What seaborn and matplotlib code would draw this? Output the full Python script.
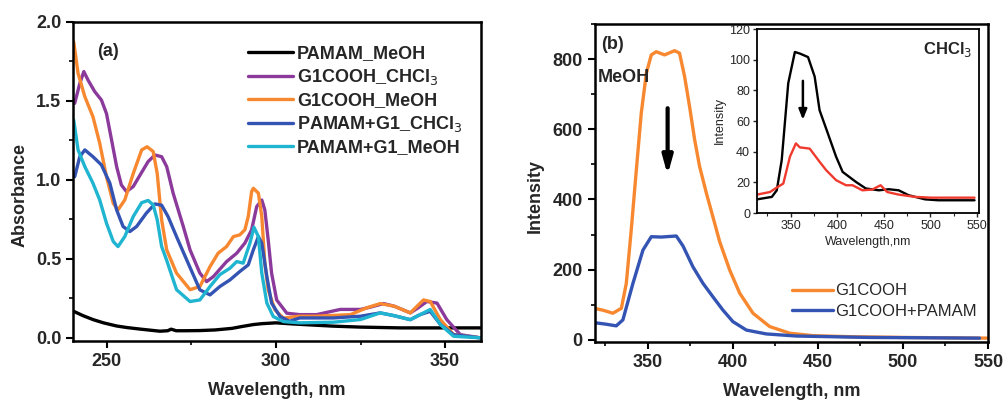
import matplotlib
matplotlib.use("Agg")
import matplotlib.pyplot as plt
import seaborn as sns
import pandas as pd
from matplotlib.ticker import MultipleLocator, FormatStrFormatter

sns.set_theme(style="ticks")
plt.rcParams['font.family'] = ['Liberation Sans', 'DejaVu Sans']

# ---------------- Panel (a) data: absorbance ----------------
pamam_meoh_x = [240.2, 243, 246, 249, 252.9, 256, 260, 265.7, 268, 269, 270.5, 273, 277.5, 282, 287, 290, 293.3, 296, 300, 305, 310, 317, 325, 336.8, 345, 352, 360.4]
pamam_meoh_y = [0.168, 0.14, 0.115, 0.095, 0.075, 0.065, 0.055, 0.042, 0.045, 0.055, 0.045, 0.045, 0.046, 0.05, 0.06, 0.072, 0.084, 0.09, 0.095, 0.088, 0.082, 0.074, 0.068, 0.063, 0.063, 0.063, 0.063]

g1_chcl3_x = [240.5, 242, 243.2, 244.5, 246.4, 248.4, 249.9, 251.4, 252.9, 254.3, 255.8, 257.8, 259.8, 262.2, 264.2, 266.2, 267.7, 269.6, 272.6, 274.6, 277.5, 279.5, 281.5, 285.4, 288.4, 290.8, 292.8, 294.3, 295.8, 296.7, 297.7, 298.7, 300.2, 303.2, 307, 312, 319, 325, 328, 331.8, 335, 339.7, 342, 344.6, 347.6, 350.5, 354.5, 360.4]
g1_chcl3_y = [1.485, 1.61, 1.686, 1.63, 1.56, 1.506, 1.42, 1.253, 1.084, 0.968, 0.926, 0.958, 1.03, 1.116, 1.158, 1.147, 1.084, 0.916, 0.705, 0.557, 0.41, 0.356, 0.388, 0.483, 0.536, 0.60, 0.684, 0.831, 0.873, 0.81, 0.62, 0.41, 0.24, 0.156, 0.147, 0.147, 0.18, 0.18, 0.195, 0.217, 0.2, 0.158, 0.19, 0.23, 0.22, 0.115, 0.02, 0.0]

g1_meoh_x = [240.2, 241.5, 243.5, 245.9, 247.9, 249.9, 251.9, 253.3, 255.3, 257.8, 260.3, 261.9, 263.7, 264.9, 266.2, 267.7, 270.6, 274.6, 277.5, 280.5, 282.9, 285.4, 287.4, 289.3, 290.8, 291.8, 292.8, 293.3, 294.8, 295.8, 296.7, 297.7, 299.7, 302.2, 307, 312, 322, 326.8, 330.8, 335, 339.7, 343.6, 345.6, 348.6, 352.5, 360.4]
g1_meoh_y = [1.875, 1.675, 1.527, 1.40, 1.232, 1.02, 0.852, 0.81, 0.873, 1.04, 1.19, 1.21, 1.18, 1.04, 0.747, 0.557, 0.41, 0.305, 0.325, 0.451, 0.536, 0.578, 0.641, 0.652, 0.684, 0.768, 0.926, 0.947, 0.916, 0.768, 0.473, 0.304, 0.177, 0.125, 0.137, 0.137, 0.147, 0.19, 0.217, 0.2, 0.158, 0.24, 0.23, 0.115, 0.02, 0.0]

mix_chcl3_x = [240.5, 242, 243.5, 245.9, 248.4, 250.9, 252.9, 254.8, 256.8, 258.8, 261.7, 264.2, 266.2, 268.1, 270.6, 273.6, 277.5, 280.5, 283.4, 286.4, 289.3, 291.8, 293.3, 294.8, 295.8, 297.3, 298.7, 301.2, 304, 307, 317, 325, 330.8, 335, 339.7, 342.6, 345.6, 348.6, 352.5, 360.4]
mix_chcl3_y = [1.02, 1.147, 1.19, 1.147, 1.095, 0.979, 0.81, 0.705, 0.673, 0.705, 0.79, 0.848, 0.84, 0.768, 0.641, 0.494, 0.304, 0.272, 0.325, 0.367, 0.42, 0.462, 0.557, 0.641, 0.60, 0.388, 0.22, 0.135, 0.105, 0.126, 0.126, 0.137, 0.158, 0.14, 0.115, 0.147, 0.168, 0.084, 0.02, 0.0]

mix_meoh_x = [240.2, 241.5, 243.5, 245.9, 247.9, 249.9, 251.9, 253.3, 255.3, 257.8, 260.3, 262.2, 263.7, 264.9, 266.2, 267.7, 270.6, 274.6, 277.5, 280.5, 283.4, 286.4, 288.4, 290.3, 292.3, 293.5, 294.8, 295.8, 297.3, 299.2, 302.2, 307, 317, 325, 330.8, 335, 339.7, 345.6, 348.6, 352.5, 360.4]
mix_meoh_y = [1.38, 1.19, 1.084, 0.979, 0.873, 0.726, 0.61, 0.578, 0.641, 0.768, 0.856, 0.87, 0.842, 0.747, 0.578, 0.49, 0.305, 0.23, 0.24, 0.325, 0.40, 0.441, 0.483, 0.473, 0.60, 0.70, 0.641, 0.41, 0.22, 0.135, 0.103, 0.095, 0.099, 0.116, 0.158, 0.14, 0.115, 0.18, 0.084, 0.01, 0.0]

# ---------------- Panel (b) data: emission in MeOH ----------------
em_g1_x = [318.6, 324, 329.4, 334.4, 337.3, 340.2, 343.2, 346.1, 349.1, 352.0, 354.9, 359.8, 365.7, 368.6, 371.6, 374.5, 377.5, 380.4, 384.4, 388.2, 392.2, 398.1, 404, 411.8, 421.6, 433.4, 447.2, 470, 500, 550]
em_g1_y = [90, 84, 76, 90, 161, 313, 484, 646, 760, 812, 821, 812, 824, 817, 750, 665, 570, 494, 418, 351, 280, 199, 133, 76, 38, 19, 12, 9, 7, 5]

em_mix_x = [318.6, 325, 331.4, 335.3, 341.2, 347.1, 352.0, 357.9, 366.7, 370.6, 376.5, 382.4, 388.2, 394.1, 400, 407.9, 419.6, 437.3, 480, 545]
em_mix_y = [49, 45, 40, 57, 161, 256, 294, 293, 296, 268, 208, 161, 123, 85, 52, 28, 17, 11, 7, 5]

# ---------------- Inset data: emission in CHCl3 ----------------
ins_black_x = [314, 329.9, 335.2, 340.5, 347.5, 354.6, 359.9, 368.7, 375.8, 381.1, 389.9, 398.8, 405.8, 420, 430.6, 444.7, 455.3, 465.9, 476.5, 494.2, 508.3, 547.2]
ins_black_y = [8.9, 10.5, 14.8, 34.5, 84.7, 105, 104, 101.7, 89, 67, 52, 36.7, 26.8, 20.3, 16, 14.8, 15.5, 14.8, 11.6, 8.9, 8.3, 8.3]

ins_red_x = [314, 328, 335.2, 342.2, 349.3, 355.7, 359.9, 370.5, 381.1, 388.2, 398.8, 409.4, 416.4, 427, 437.6, 446.5, 453.5, 465.9, 483.6, 501.2, 547.2]
ins_red_y = [12, 13.7, 16.6, 19.2, 36.7, 45.4, 42.8, 42, 33.4, 27.9, 21.4, 18.1, 18.1, 14.8, 15.3, 18.1, 13.7, 12, 10.5, 10, 10]

abs_series = [
    ("PAMAM_MeOH", pamam_meoh_x, pamam_meoh_y, "#000000"),
    ("G1COOH_CHCl$_3$", g1_chcl3_x, g1_chcl3_y, "#8b3a9c"),
    ("G1COOH_MeOH", g1_meoh_x, g1_meoh_y, "#f7882f"),
    ("PAMAM+G1_CHCl$_3$", mix_chcl3_x, mix_chcl3_y, "#3454b4"),
    ("PAMAM+G1_MeOH", mix_meoh_x, mix_meoh_y, "#1fb5d0"),
]

fig = plt.figure(figsize=(10.06, 4.01), dpi=100)
W, H = 1006, 401
axa = fig.add_axes([73 / W, 1 - 341 / H, (481 - 73) / W, (341 - 22) / H])
axb = fig.add_axes([594.5 / W, 1 - 342 / H, (988 - 594.5) / W, (342 - 24) / H])
axi = fig.add_axes([757 / W, 1 - 213 / H, (979 - 757) / W, (213 - 29) / H])

def style(ax, lw=1.8, fs=13):
    for s in ax.spines.values():
        s.set_linewidth(lw)
        s.set_color("black")
    ax.tick_params(which="major", direction="out", length=5, width=1.5, labelsize=fs, color="black")
    ax.tick_params(which="minor", direction="out", length=3, width=1.2, color="black")
    ax.tick_params(top=False, right=False)
    for lab in ax.get_xticklabels() + ax.get_yticklabels():
        lab.set_fontweight("bold")

# Panel (a)
for name, xs, ys, col in abs_series:
    df = pd.DataFrame({"x": xs, "y": ys})
    sns.lineplot(data=df, x="x", y="y", ax=axa, color=col, lw=2.4, label=name, sort=False)
axa.set_xlim(240, 360.6)
axa.set_ylim(-0.02, 2.0)
axa.xaxis.set_major_locator(MultipleLocator(50))
axa.xaxis.set_minor_locator(MultipleLocator(25))
axa.yaxis.set_major_locator(MultipleLocator(0.5))
axa.yaxis.set_minor_locator(MultipleLocator(0.25))
axa.yaxis.set_major_formatter(FormatStrFormatter("%.1f"))
axa.set_xlabel("Wavelength, nm", fontsize=13, fontweight="bold")
axa.set_ylabel("Absorbance", fontsize=13, fontweight="bold")
axa.xaxis.set_label_coords(0.5, -0.128)
axa.yaxis.set_label_coords(-0.11, 0.458)
style(axa)
leg = axa.legend(loc="upper left", frameon=False, fontsize=13, handlelength=2.5,
                 borderaxespad=0.0, labelspacing=0.28, handletextpad=0.25,
                 bbox_to_anchor=(0.41, 0.95))
for t in leg.get_texts():
    t.set_fontweight("bold")
axa.text(0.06, 0.906, "(a)", transform=axa.transAxes, fontsize=13, fontweight="bold", va="center")

# Panel (b)
for name, xs, ys, col in [("G1COOH", em_g1_x, em_g1_y, "#f7882f"),
                          ("G1COOH+PAMAM", em_mix_x, em_mix_y, "#3454b4")]:
    df = pd.DataFrame({"x": xs, "y": ys})
    sns.lineplot(data=df, x="x", y="y", ax=axb, color=col, lw=2.4, label=name, sort=False)
axb.set_xlim(318.6, 550)
axb.set_ylim(-6, 900)
axb.xaxis.set_major_locator(MultipleLocator(50))
axb.xaxis.set_minor_locator(MultipleLocator(25))
axb.yaxis.set_major_locator(MultipleLocator(200))
axb.yaxis.set_minor_locator(MultipleLocator(100))
axb.set_xlabel("Wavelength, nm", fontsize=13, fontweight="bold")
axb.set_ylabel("Intensity", fontsize=13, fontweight="bold")
axb.xaxis.set_label_coords(0.501, -0.13)
axb.yaxis.set_label_coords(-0.128, 0.459)
style(axb)
legb = axb.legend(loc="upper left", frameon=False, fontsize=12, handlelength=2.45,
                  borderaxespad=0.0, labelspacing=0.35, handletextpad=0.15,
                  bbox_to_anchor=(0.485, 0.205))
axb.text(0.018, 0.934, "(b)", transform=axb.transAxes, fontsize=13, fontweight="bold", va="center")
axb.text(0.008, 0.833, "MeOH", transform=axb.transAxes, fontsize=13, fontweight="bold", va="center")
axb.annotate("", xy=(361.6, 462), xytext=(361.6, 668),
             arrowprops=dict(arrowstyle="-|>,head_width=0.25,head_length=0.9", color="black", lw=3))

# Inset
for xs, ys, col in [(ins_black_x, ins_black_y, "#000000"), (ins_red_x, ins_red_y, "#f03a2e")]:
    df = pd.DataFrame({"x": xs, "y": ys})
    sns.lineplot(data=df, x="x", y="y", ax=axi, color=col, lw=1.7, sort=False)
axi.set_xlim(314, 552)
axi.set_ylim(0, 120)
axi.xaxis.set_major_locator(MultipleLocator(50))
axi.xaxis.set_minor_locator(MultipleLocator(25))
axi.yaxis.set_major_locator(MultipleLocator(20))
axi.set_xlabel("Wavelength,nm", fontsize=9, labelpad=3)
axi.set_ylabel("Intensity", fontsize=9, labelpad=2)
for s in axi.spines.values():
    s.set_linewidth(1.3)
    s.set_color("black")
axi.tick_params(which="major", direction="out", length=3, width=1.0, labelsize=9, pad=2)
axi.tick_params(which="minor", direction="out", length=2, width=0.8)
axi.text(0.748, 0.886, "CHCl$_3$", transform=axi.transAxes, fontsize=12, fontweight="bold", va="center")
axi.annotate("", xy=(363.2, 59), xytext=(363.2, 88),
             arrowprops=dict(arrowstyle="-|>,head_width=0.2,head_length=0.5", color="black", lw=1.8))

fig.savefig("out.png", dpi=100)
